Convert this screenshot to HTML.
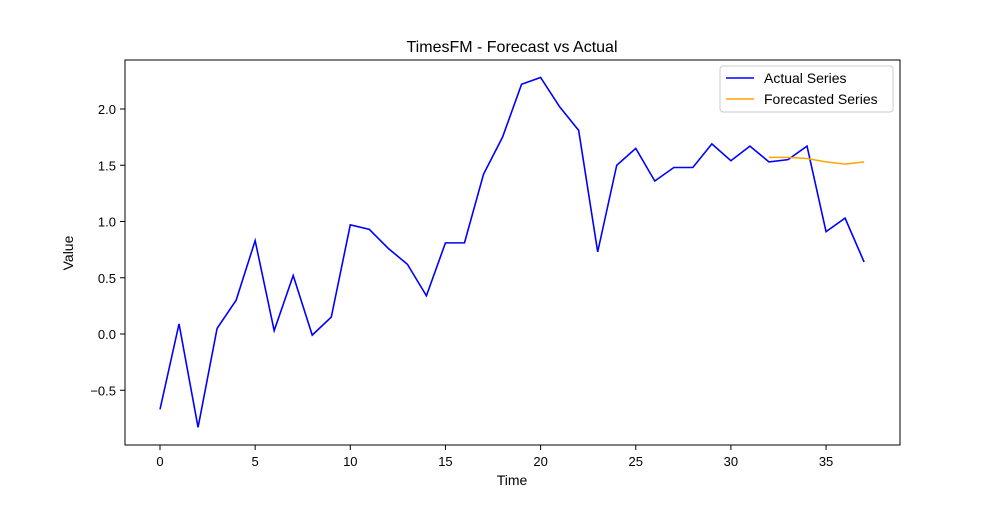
<!DOCTYPE html>
<html><head><meta charset="utf-8"><style>
body{margin:0;background:#fff}
svg{font-family:"Liberation Sans","DejaVu Sans",sans-serif}
</style></head><body>
<svg id="chart" width="1000" height="500">
<rect x="0" y="0" width="1000" height="500" fill="#fff"/>
<text x="512" y="52" font-size="16" text-anchor="middle">TimesFM - Forecast vs Actual</text>
<g id="axes"></g>
<rect x="125" y="60" width="775" height="385" fill="none" stroke="#000" stroke-width="1"/>
<text x="512" y="485" font-size="14" text-anchor="middle">Time</text>
<text x="73" y="253" font-size="14" text-anchor="middle" transform="rotate(-90 73 253)">Value</text>
<g>
<rect x="720" y="66" width="173" height="46" fill="#fff" stroke="#ccc" rx="3"/>
<line x1="726" y1="78" x2="754" y2="78" stroke="blue" stroke-width="1.6"/>
<text x="764" y="83" font-size="14">Actual Series</text>
<line x1="726" y1="99" x2="754" y2="99" stroke="orange" stroke-width="1.6"/>
<text x="764" y="104" font-size="14">Forecasted Series</text>
</g>
</svg>
<script>
const actualValues=[-0.67,0.09,-0.83,0.05,0.30,0.83,0.03,0.52,-0.01,0.15,0.97,0.93,0.76,0.62,0.34,0.81,0.81,1.42,1.75,2.22,2.28,2.02,1.81,0.73,1.50,1.65,1.36,1.48,1.48,1.69,1.54,1.67,1.53,1.55,1.67,0.91,1.03,0.64];
const forecastStart=32;
const forecastValues=[1.57,1.57,1.56,1.53,1.51,1.53];
const xTicks=[0,5,10,15,20,25,30,35];
const yTicks=[-0.5,0.0,0.5,1.0,1.5,2.0];
const yTickLabels=["−0.5","0.0","0.5","1.0","1.5","2.0"];
const NS="http://www.w3.org/2000/svg";
const sx=v=>160+v*19.03;
const sy=v=>334-v*112.5;
const g=document.getElementById('axes');
function mk(t,a){const e=document.createElementNS(NS,t);for(const k in a)e.setAttribute(k,a[k]);return e;}
xTicks.forEach(t=>{
 const l=mk('line',{x1:sx(t),x2:sx(t),y1:445,y2:450,stroke:'#000'});
 
 
 g.appendChild(l);
 const tx=mk('text',{x:sx(t),y:466,'font-size':13,'text-anchor':'middle'});tx.textContent=t;
 
 
 g.appendChild(tx);
});
yTicks.forEach((t,i)=>{
 const l=mk('line',{x1:120,x2:125,y1:sy(t),y2:sy(t),stroke:'#000'});
 
 
 g.appendChild(l);
 const tx=mk('text',{x:116,y:sy(t)+5,'font-size':13,'text-anchor':'end'});tx.textContent=yTickLabels[i];
 
 
 g.appendChild(tx);
});
const a=mk('polyline',{points:actualValues.map((v,i)=>sx(i)+','+sy(v)).join(' '),fill:'none',stroke:'blue','stroke-width':1.6});


g.appendChild(a);
const f=mk('polyline',{points:forecastValues.map((v,i)=>sx(forecastStart+i)+','+sy(v)).join(' '),fill:'none',stroke:'orange','stroke-width':1.6});


g.appendChild(f);
</script>
</body></html>
